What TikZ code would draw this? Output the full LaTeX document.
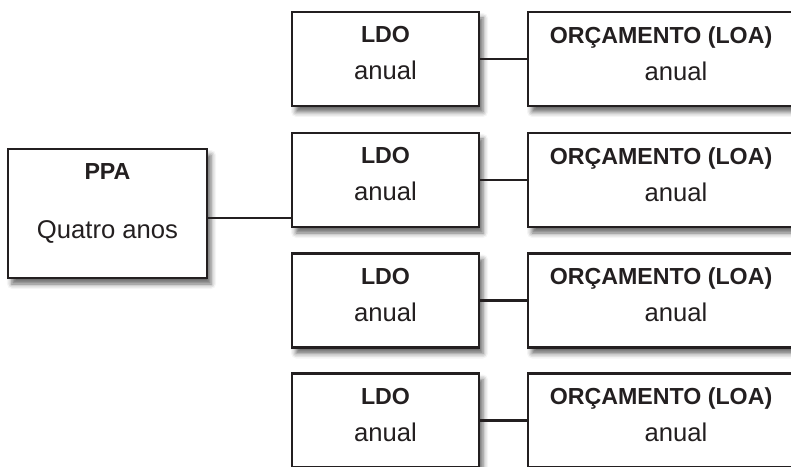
\documentclass[tikz,border=0pt]{standalone}
\usepackage{fontspec}
\setmainfont{Liberation Sans}
\usepackage{tikz}
\usetikzlibrary{shadows.blur}
\usepackage{xcolor}
\definecolor{ink}{HTML}{231F20}

\newcommand{\boxtitle}[1]{{\fontsize{13.2pt}{21pt}\selectfont\bfseries #1}}

\begin{document}
\begin{tikzpicture}[
  font=\fontsize{14.6pt}{21pt}\selectfont,
  planbox/.style={draw=ink,text=ink,fill=white,line width=1.3pt,inner sep=0pt,align=center,
    blur shadow={shadow xshift=0.08cm,shadow yshift=-0.12cm,shadow blur radius=0.1cm,shadow opacity=60}},
  ppabox/.style={planbox,minimum width=3.98cm,minimum height=2.58cm},
  ldobox/.style={planbox,minimum width=3.74cm,minimum height=1.88cm},
  loabox/.style={planbox,minimum width=5.92cm,minimum height=1.88cm},
  link/.style={draw=ink,line width=1.3pt}]
\useasboundingbox (0,0) rectangle (15.82,-9.36);
\clip (0,0) rectangle (15.82,-9.33);
% plano plurianual
\node[ppabox] (ppa) at (2.15,-4.27) {\boxtitle{PPA}\\[12.6pt]Quatro anos\rule[-0.5cm]{0pt}{0.5cm}};
% diretrizes e orcamentos, um por ano
\node[ldobox] (ldo1) at (7.71,-1.18) {\boxtitle{LDO}\\anual\rule[-0.23cm]{0pt}{0.23cm}};
\node[ldobox] (ldo2) at (7.71,-3.60) {\boxtitle{LDO}\\anual\rule[-0.23cm]{0pt}{0.23cm}};
\node[ldobox] (ldo3) at (7.71,-6.01) {\boxtitle{LDO}\\anual\rule[-0.23cm]{0pt}{0.23cm}};
\node[ldobox] (ldo4) at (7.71,-8.41) {\boxtitle{LDO}\\anual\rule[-0.23cm]{0pt}{0.23cm}};
\node[loabox] (loa1) at (13.52,-1.18) {\boxtitle{ORÇAMENTO (LOA)}\rule{0.6cm}{0pt}\\anual\rule[-0.23cm]{0pt}{0.23cm}};
\node[loabox] (loa2) at (13.52,-3.60) {\boxtitle{ORÇAMENTO (LOA)}\rule{0.6cm}{0pt}\\anual\rule[-0.23cm]{0pt}{0.23cm}};
\node[loabox] (loa3) at (13.52,-6.01) {\boxtitle{ORÇAMENTO (LOA)}\rule{0.6cm}{0pt}\\anual\rule[-0.23cm]{0pt}{0.23cm}};
\node[loabox] (loa4) at (13.52,-8.41) {\boxtitle{ORÇAMENTO (LOA)}\rule{0.6cm}{0pt}\\anual\rule[-0.23cm]{0pt}{0.23cm}};
% ligacoes
\draw[link] (ppa.east |- ldo2.202) -- (ldo2.202);
\draw[link] (ldo1.east) -- (loa1.west);
\draw[link] (ldo2.east) -- (loa2.west);
\draw[link] (ldo3.east) -- (loa3.west);
\draw[link] (ldo4.east) -- (loa4.west);
\end{tikzpicture}
\end{document}
